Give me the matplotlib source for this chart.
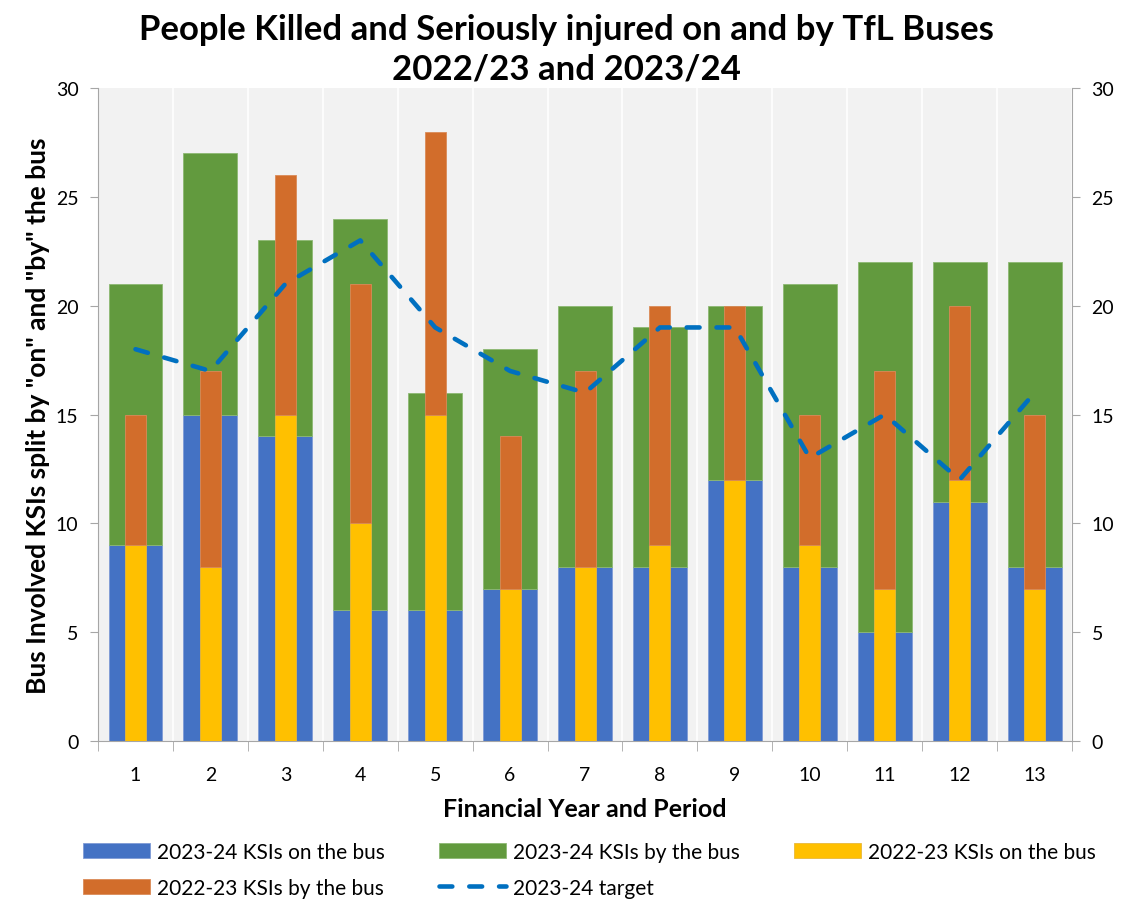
import matplotlib.pyplot as plt
import numpy as np

plt.rcParams['font.family'] = ['Lato', 'DejaVu Sans']

# Periods and KSI counts
periods = ['1', '2', '3', '4', '5', '6', '7', '8', '9', '10', '11', '12', '13']
on_2324 = [9, 15, 14, 6, 6, 7, 8, 8, 12, 8, 5, 11, 8]
by_2324 = [12, 12, 9, 18, 10, 11, 12, 11, 8, 13, 17, 11, 14]
on_2223 = [9, 8, 15, 10, 15, 7, 8, 9, 12, 9, 7, 12, 7]
by_2223 = [6, 9, 11, 11, 13, 7, 9, 11, 8, 6, 10, 8, 8]
target_2324 = [18, 17, 21, 23, 19, 17, 16, 19, 19, 13, 15, 12, 16]

x = np.arange(len(periods))
grey = '#A6A6A6'

fig = plt.figure(figsize=(11.32, 9.03), dpi=100)
ax = fig.add_axes([0.0866, 0.1783, 0.8604, 0.7231])
ax.set_facecolor('#F2F2F2')

# wide bars (2023-24) behind, narrow bars (2022-23) in front
b1 = ax.bar(x, on_2324, width=0.72, color='#4472C4', edgecolor='#7F9BD6', linewidth=0.6,
            label='2023-24 KSIs on the bus', zorder=2)
b2 = ax.bar(x, by_2324, width=0.72, bottom=on_2324, color='#629A3E', edgecolor='#8DB873', linewidth=0.6,
            label='2023-24 KSIs by the bus', zorder=2)
b3 = ax.bar(x, on_2223, width=0.28, color='#FFC000', edgecolor='#E8B83A', linewidth=0.6,
            label='2022-23 KSIs on the bus', zorder=3)
b4 = ax.bar(x, by_2223, width=0.28, bottom=on_2223, color='#D26D2B', edgecolor='#DA8A58', linewidth=0.6,
            label='2022-23 KSIs by the bus', zorder=3)
ln, = ax.plot(x, target_2324, color='#0070C0', linewidth=3.3, dashes=(2.8, 3.7),
              dash_capstyle='round', label='2023-24 target', zorder=4)

ax.set_xlim(-0.5, len(periods) - 0.5)
ax.set_ylim(0, 30)
ax.set_yticks(range(0, 31, 5))
ax.set_xticks(x)
ax.set_xticklabels(periods)
ax.set_xticks(np.arange(-0.5, len(periods)), minor=True)
ax.tick_params(axis='x', which='major', length=0, labelsize=14, pad=18)
ax.tick_params(axis='x', which='minor', length=7, color=grey, direction='out')
ax.tick_params(axis='y', labelsize=14, length=6, color=grey, pad=8)
ax.grid(True, axis='x', which='minor', color='white', linewidth=1.2, zorder=1)
ax.set_axisbelow(True)

for side in ['top', 'right']:
    ax.spines[side].set_visible(False)
ax.spines['left'].set_color(grey)
ax.spines['bottom'].set_color(grey)

ax2 = ax.twinx()
ax2.set_ylim(0, 30)
ax2.set_yticks(range(0, 31, 5))
ax2.tick_params(axis='y', labelsize=14, length=6, color=grey, pad=8)
for side in ['top', 'left', 'bottom']:
    ax2.spines[side].set_visible(False)
ax2.spines['right'].set_color(grey)

ax.set_xlabel('Financial Year and Period', fontsize=18, fontweight='bold', labelpad=10)
ax.set_ylabel('Bus Involved KSIs split by "on" and "by" the bus', fontsize=19,
              fontweight='bold', labelpad=4)
fig.suptitle('People Killed and Seriously injured on and by TfL Buses\n2022/23 and 2023/24',
             fontsize=25, fontweight='bold', y=0.985, linespacing=1.3)

# column-major order so rows read: blue, green, yellow / orange, target
handles = [b1, b4, b2, ln, b3]
labels = [h.get_label() for h in handles]
fig.legend(handles, labels, loc='lower left', bbox_to_anchor=(0.057, -0.016), ncol=3,
           fontsize=15, frameon=False, handlelength=3.2, handleheight=0.75,
           handletextpad=0.35, columnspacing=2.6, labelspacing=0.75)

plt.savefig('out.png', dpi=100)
